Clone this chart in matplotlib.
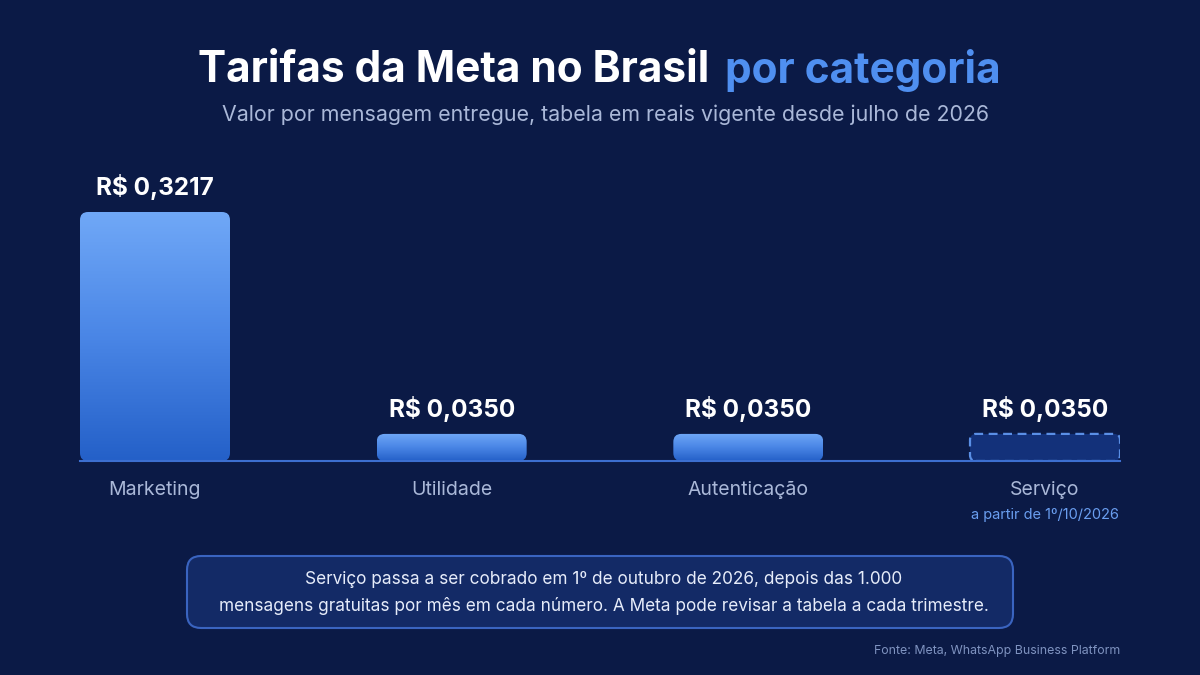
"""Tarifas da Meta no Brasil por categoria (bar chart, dark theme)."""

import matplotlib

matplotlib.use("Agg")
import matplotlib.pyplot as plt
import numpy as np
from matplotlib.colors import LinearSegmentedColormap
from matplotlib.patches import FancyBboxPatch

plt.rcParams["font.family"] = ["Inter", "DejaVu Sans"]

# --- data -------------------------------------------------------------
categorias = ["Marketing", "Utilidade", "Autenticação", "Serviço"]
tarifas = [0.3217, 0.0350, 0.0350, 0.0350]
notas = ["", "", "", "a partir de 1º/10/2026"]
pendente = [False, False, False, True]

titulo = "Tarifas da Meta no Brasil"
titulo_destaque = "por categoria"
subtitulo = "Valor por mensagem entregue, tabela em reais vigente desde julho de 2026"
aviso = ("Serviço passa a ser cobrado em 1º de outubro de 2026, depois das 1.000\n"
         "mensagens gratuitas por mês em cada número. A Meta pode revisar a tabela a cada trimestre.")
fonte = "Fonte: Meta, WhatsApp Business Platform"

# --- style ------------------------------------------------------------
BG = "#0b1a46"
WHITE = "#ffffff"
ACCENT = "#4f8ff0"
MUTED = "#aab8d8"
BASE = "#3d6fd0"
grad = LinearSegmentedColormap.from_list("bar", ["#2460c8", "#4a86e6", "#70a8f7"])

W, H = 1200, 675
fig = plt.figure(figsize=(12, 6.75), dpi=100, facecolor=BG)

# axes placed so the baseline and the tallest bar land where the reference has them
ax = fig.add_axes([80 / W, 1 - 461 / H, 1040 / W, 249 / H])
ax.set_facecolor("none")
ax.axis("off")
bar_w = 0.5056
ax.set_xlim(-bar_w / 2, len(categorias) - 1 + bar_w / 2)
ax.set_ylim(0, max(tarifas))

# px -> data conversions for the rounded corners
x_per_px = (len(categorias) - 1 + bar_w) / 1040
y_per_px = max(tarifas) / 249
aspect = y_per_px / x_per_px

for i, (cat, v, nota, pend) in enumerate(zip(categorias, tarifas, notas, pendente)):
    x0 = i - bar_w / 2
    if pend:
        patch = FancyBboxPatch((x0, 0), bar_w, v,
                               boxstyle=f"round,pad=0,rounding_size={6 * x_per_px}",
                               mutation_aspect=aspect, facecolor="#13317a",
                               edgecolor="#5a8fe6", linewidth=1.6, linestyle=(0, (4, 2.5)),
                               zorder=3)
        ax.add_patch(patch)
    else:
        patch = FancyBboxPatch((x0, 0), bar_w, v,
                               boxstyle=f"round,pad=0,rounding_size={8 * x_per_px}",
                               mutation_aspect=aspect, facecolor="none",
                               edgecolor="none", zorder=3)
        ax.add_patch(patch)
        g = np.linspace(0, 1, 256).reshape(-1, 1)
        im = ax.imshow(g, cmap=grad, origin="lower", aspect="auto",
                       extent=(x0, x0 + bar_w, 0, v), zorder=2)
        im.set_clip_path(patch)

    ax.annotate(f"R$ {v:.4f}".replace(".", ","), (i, v), xytext=(0, 18),
                textcoords="offset points", ha="center", va="center",
                color=WHITE, fontsize=17.5, fontweight="bold", annotation_clip=False)
    ax.annotate(cat, (i, 0), xytext=(0, -21), textcoords="offset points",
                ha="center", va="center", color=MUTED, fontsize=14,
                annotation_clip=False)
    if nota:
        ax.annotate(nota, (i, 0), xytext=(0, -39), textcoords="offset points",
                    ha="center", va="center", color="#6a9ef0", fontsize=10.5,
                    annotation_clip=False)

ax.plot(ax.get_xlim(), [0, 0], color=BASE, linewidth=1.5, zorder=4, clip_on=False)
ax.set_xlim(-bar_w / 2, len(categorias) - 1 + bar_w / 2)

# --- title in two colours, centred as one line --------------------------
t1 = fig.text(0, 1 - 70 / H, titulo, color=WHITE, fontsize=30.5, fontweight="bold",
              ha="left", va="center")
t2 = fig.text(0, 1 - 70 / H, titulo_destaque, color=ACCENT, fontsize=30.5,
              fontweight="bold", ha="left", va="center")
r = fig.canvas.get_renderer()
w1 = t1.get_window_extent(r).width
w2 = t2.get_window_extent(r).width
gap = 16
start = 599 - (w1 + gap + w2) / 2
t1.set_x(start / W)
t2.set_x((start + w1 + gap) / W)

fig.text(606 / W, 1 - 115 / H, subtitulo, color=MUTED, fontsize=15.4,
         ha="center", va="center")

# --- note box -------------------------------------------------------------
box = FancyBboxPatch((187 / W, 1 - 628 / H), 826 / W, 72 / H,
                     boxstyle=f"round,pad=0,rounding_size={14 / W}",
                     mutation_aspect=W / H, transform=fig.transFigure,
                     facecolor="#132a66", edgecolor="#3a64c0", linewidth=1.5)
fig.patches.append(box)
fig.text(604 / W, 1 - 593 / H, aviso, color="#e6ecfa", fontsize=12.4,
         ha="center", va="center", multialignment="center", linespacing=1.6)

fig.text(1120 / W, 1 - 651 / H, fonte, color="#7f93c0", fontsize=8.9,
         ha="right", va="center")

fig.savefig("out.png", dpi=100, facecolor=BG)
